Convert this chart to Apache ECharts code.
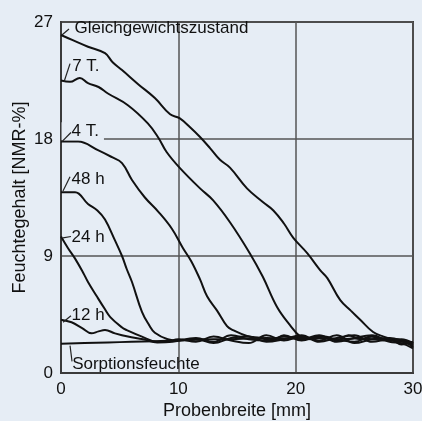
<!DOCTYPE html>
<html><head><meta charset="utf-8">
<script src="https://cdn.jsdelivr.net/npm/echarts@6/dist/echarts.min.js"></script>
<style>html,body{margin:0;padding:0;background:#e6edf5;}#c{width:422px;height:421px;}</style>
</head><body><div id="c"></div>
<script>
// Data (x in mm, y in NMR-%)
const gleichX = [0,1,2.3,3.75,4.4,5.2,6.6,8,9.3,10.1,11,11.85,12.7,13.55,14.4,15.85,17.2,18.1,19,19.8,21,22.1,22.7,23.8,24.7,25.5,26.6,27.5,28.3,29.2,30];
const gleichY = [26.0,25.6,25.1,24.6,23.9,23.3,22.2,21.15,19.9,19.6,18.9,18.15,17.3,16.4,15.8,14.2,13.15,12.5,11.5,10.4,9.2,7.9,7.3,5.6,4.8,4.1,3.15,2.8,2.6,2.5,2.2];
const t7X = [0,0.77,1.6,2.3,3.2,4,5.7,7.4,8.3,9,10.1,11.85,12.95,14.4,16.1,17.2,18.4,19.5,20.4,21.3,22.5,23.5,24.5,25.5,26.5,27.5,28.5,29.3,30];
const t7Y = [22.5,22.4,22.7,22.3,22.0,21.5,20.6,19.2,18.1,17.0,15.8,14.2,13.3,11.6,9.2,7.4,5.1,3.7,2.8,2.6,2.8,2.5,2.9,2.6,2.8,2.5,2.6,2.4,2.0];
const t4X = [0,1.45,3.15,4.35,5.2,6.05,7.15,8.3,9.45,10.4,11.1,11.85,12.45,13.3,14.15,14.65,15.85,17,18,19,20.5,22,23.5,25,26.5,28,29,30];
const t4Y = [17.8,17.8,17.15,16.6,16.15,14.85,13.5,12.4,11.1,9.6,8.6,7.2,5.9,4.8,3.6,3.3,2.85,2.7,2.5,2.9,2.5,2.8,2.6,2.4,2.8,2.5,2.6,2.3];
const h48X = [0,1.2,2.3,3.1,3.75,4.6,5.2,5.6,6.05,6.9,7.5,8,9.1,10,11.5,13,14.5,16,17.5,19,20.5,22,23.5,25,26.5,28,29,30];
const h48Y = [13.9,13.9,13.0,12.5,11.8,10.2,9.0,8.0,7.0,4.7,3.7,3.1,2.6,2.5,2.6,2.3,2.7,2.8,2.4,2.6,2.9,2.4,2.7,2.9,2.4,2.6,2.2,2.4];
const h24X = [0,0.6,1.2,1.9,2.3,3.05,3.75,4.2,5.2,5.6,6.9,8.2,9,10,11.5,13,14.5,16,17.5,19,20.5,22,23.5,25,26.5,28,29,30];
const h24Y = [10.5,9.6,8.8,7.7,7.0,5.9,4.9,4.3,3.5,3.3,2.8,2.4,2.4,2.6,2.4,2.8,2.5,2.3,2.9,2.5,2.8,2.5,2.9,2.3,2.6,2.7,2.5,2.1];
const h12X = [0,0.9,1.8,2.6,3.2,3.75,4.6,5.7,7,8.2,9.5,11.5,13,14.5,16,17.5,19,20.5,22,23.5,25,26.5,28,29,30];
const h12Y = [4.1,3.9,3.45,3.05,3.2,3.3,3.05,2.8,2.6,2.35,2.4,2.7,2.4,2.9,2.6,2.5,2.8,2.6,2.9,2.4,2.7,2.9,2.4,2.3,1.9];
const sorpX = [0,2,4,6,8,10,11.5,13,14.5,16,17.5,19,20.5,22,23.5,25,26.5,28,29,30];
const sorpY = [2.25,2.3,2.35,2.4,2.45,2.5,2.55,2.6,2.6,2.65,2.7,2.65,2.7,2.7,2.6,2.65,2.6,2.5,2.4,2.3];
const curveNames = ['Gleichgewichtszustand','7 T.','4 T.','48 h','24 h','12 h','Sorptionsfeuchte'];
// annotation text anchors [x, y, text]
const labelPos = [[1.15,26.5,'Gleichgewichtszustand'],[0.95,23.6,'7 T.'],[0.9,18.6,'4 T.'],[0.9,14.9,'48 h'],[0.9,10.45,'24 h'],[0.9,4.45,'12 h'],[0.95,0.7,'Sorptionsfeuchte']];
// leader segments [[x1,y1],[x2,y2]]
const leaders = [[[0.08,26.0],[0.68,26.46]],[[0.26,22.4],[0.77,23.8]],[[0.08,17.8],[0.85,18.5]],[[0.17,14.0],[0.77,15.1]],[[0.17,10.4],[0.85,10.5]],[[0.17,3.9],[0.85,4.4]],[[0.77,2.1],[0.94,0.9]]];
const xTicks = [0,10,20,30];
const yTicks = [0,9,18,27];

const curves = [[gleichX,gleichY],[t7X,t7Y],[t4X,t4Y],[h48X,h48Y],[h24X,h24Y],[h12X,h12Y],[sorpX,sorpY]];
const BG = '#e6edf5';
const FONT = 'Liberation Sans';
const INK = '#111';
const series = curves.map((c,i)=>({
  name: curveNames[i], type:'line', smooth:0.4, symbol:'none', z:3,
  lineStyle:{color:'#111', width:2},
  data: c[0].map((x,j)=>[x,c[1][j]])
}));
leaders.forEach(l=>series.push({type:'line', symbol:'none', z:6, silent:true, lineStyle:{color:'#222',width:1.2}, data:l}));
series.push({
  type:'scatter', symbolSize:0, z:5, silent:true,
  itemStyle:{opacity:1},
  data: labelPos.map(p=>({value:[p[0],p[1]], name:p[2]})),
  label:{show:true, position:'right', distance:0, formatter:p=>p.name, color:INK, opacity:1,
    textBorderWidth:0, fontFamily:FONT, fontSize:17},
});
// background for "4 T." to hide grid line
series[series.length-1].data[2].label = {backgroundColor:BG, padding:[1,5,0,10], offset:[-10,0]};

const chart = echarts.init(document.getElementById('c'), null, {renderer:'canvas'});
chart.setOption({
  backgroundColor: BG,
  animation:false,
  grid:{left:61, top:22, right:9, bottom:48, outerBoundsMode:'none', containLabel:false, show:true, borderColor:'#3a3a3a', borderWidth:2, backgroundColor:'transparent'},
  xAxis:{type:'value', min:xTicks[0], max:xTicks[xTicks.length-1], interval:10,
    name:'Probenbreite [mm]', nameLocation:'middle', nameGap:29, nameMoveOverlap:false,
    nameTextStyle:{fontFamily:FONT, fontSize:18, color:INK},
    axisLine:{show:true, lineStyle:{color:'#3a3a3a', width:2}}, axisTick:{show:false},
    axisLabel:{fontFamily:FONT, fontSize:17, color:INK, margin:8},
    splitLine:{show:true, lineStyle:{color:'#555', width:1.5}}},
  yAxis:{type:'value', min:yTicks[0], max:yTicks[yTicks.length-1], interval:9,
    name:'Feuchtegehalt [NMR-%]', nameLocation:'middle', nameGap:32, nameMoveOverlap:false,
    nameTextStyle:{fontFamily:FONT, fontSize:18, color:INK},
    axisLine:{show:true, lineStyle:{color:'#3a3a3a', width:2}}, axisTick:{show:false},
    axisLabel:{fontFamily:FONT, fontSize:17, color:INK, margin:8},
    splitLine:{show:true, lineStyle:{color:'#555', width:1.5}}},
  series: series
});
</script></body></html>
